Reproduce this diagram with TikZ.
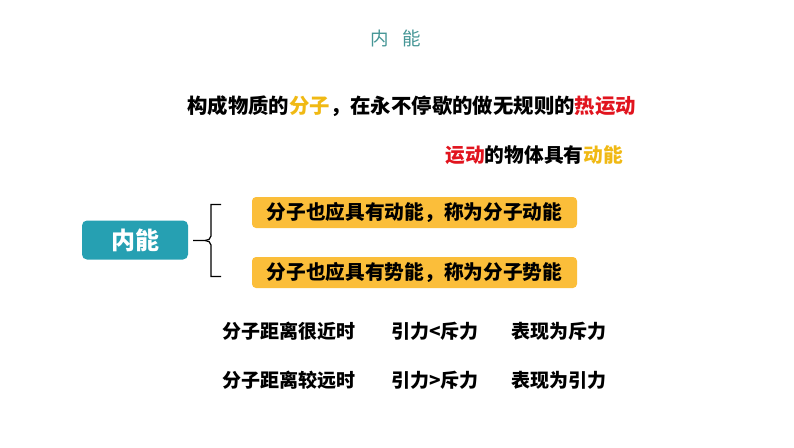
\documentclass[tikz,border=0pt]{standalone}
\usepackage{fontspec}
\newfontfamily\cjk{Noto Sans CJK SC}
\usepackage{xcolor}
\usepackage{tikz}
\usetikzlibrary{positioning}

\definecolor{teal1}{RGB}{38,160,178}
\definecolor{tealtxt}{RGB}{70,150,150}
\definecolor{gold1}{RGB}{251,190,58}
\definecolor{goldtxt}{RGB}{240,185,20}
\definecolor{red1}{RGB}{225,20,30}

\tikzset{
  txt/.style={font=\cjk\bfseries\fontsize{19}{19}\selectfont, inner sep=0pt},
  goldbox/.style={fill=gold1, rounded corners=4pt, minimum width=325pt, minimum height=31pt,
    font=\cjk\bfseries\fontsize{19.7}{19.7}\selectfont, inner sep=0pt},
}

\begin{document}
\begin{tikzpicture}[x=1pt, y=-1pt]
    \useasboundingbox (0,0) rectangle (794,447);

    % Title
    \node[font=\cjk\fontsize{18.5}{18.5}\selectfont, text=tealtxt, inner sep=0pt] (title) at (396, 38) {内\hspace{0.75em}能};

    % Statements
    \node[txt, font=\cjk\bfseries\fontsize{20.4}{20.4}\selectfont, anchor=west] (line1) at (187, 106)
      {构成物质的\textcolor{goldtxt}{分子}，在永不停歇的做无规则的\textcolor{red1}{热运动}};
    \node[txt, font=\cjk\bfseries\fontsize{19.7}{19.7}\selectfont, anchor=east] (line2) at (623, 155)
      {\textcolor{red1}{运动}的物体具有\textcolor{goldtxt}{动能}};

    % Main box
    \node[fill=teal1, rounded corners=5pt, minimum width=106pt, minimum height=39pt, text=white,
      font=\cjk\bfseries\fontsize{24}{24}\selectfont, inner sep=0pt] (nei) at (135, 240) {内能};

    % Brace
    \coordinate (tip) at (193, 240.5);
    \coordinate (top) at (221, 204.5);
    \coordinate (bot) at (221, 276.5);
    \draw[line width=1.2pt] (top) -- (211, 204.5) -- (211, 236) to[out=-90, in=0] (205, 240.5) -- (tip);
    \draw[line width=1.2pt] (bot) -- (211, 276.5) -- (211, 245) to[out=90, in=0] (205, 240.5);

    % Gold boxes
    \node[goldbox] (kin) at (414.5, 212.5) {分子也应具有动能，称为分子动能};
    \node[goldbox] (pot) at (414.5, 272.5) {分子也应具有势能，称为分子势能};

    % Force rows
    \node[txt, anchor=west] (near) at (222, 331) {分子距离很近时};
    \node[txt, anchor=west] (nearf) at (391, 331) {引力<斥力};
    \node[txt, anchor=west] (nearr) at (511, 331) {表现为斥力};
    \node[txt, anchor=west] (far) at (222, 380) {分子距离较远时};
    \node[txt, anchor=west] (farf) at (391, 380) {引力>斥力};
    \node[txt, anchor=west] (farr) at (511, 380) {表现为引力};
\end{tikzpicture}
\end{document}
